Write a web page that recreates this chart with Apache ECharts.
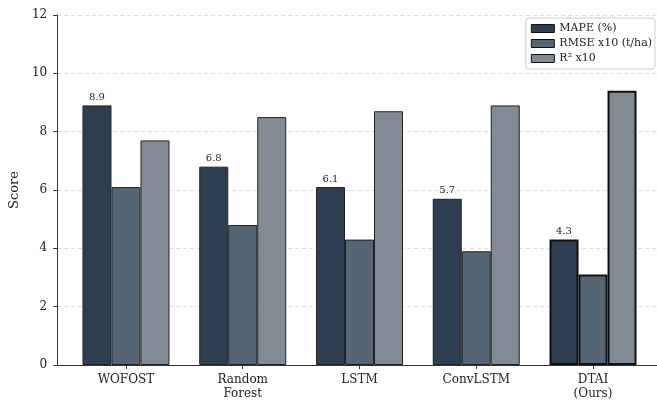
<!DOCTYPE html>
<html><head><meta charset="utf-8">
<script src="https://cdn.jsdelivr.net/npm/echarts@6/dist/echarts.min.js"></script>
<style>html,body{margin:0;padding:0;background:#fff}#c{width:657px;height:403px}</style>
</head><body><div id="c"></div>
<script>
const categories = ['WOFOST', 'Random\nForest', 'LSTM', 'ConvLSTM', 'DTAI\n(Ours)'];
const seriesNames = ['MAPE (%)', 'RMSE x10 (t/ha)', 'R\u00b2 x10'];
const mape = [8.9, 6.8, 6.1, 5.7, 4.3];
const rmse = [6.1, 4.8, 4.3, 3.9, 3.1];
const r2 = [7.7, 8.5, 8.7, 8.9, 9.4];
const yTicks = [0, 2, 4, 6, 8, 10, 12];
const colors = ['#2c3e50', '#566573', '#808b96'];
const FONT = 'DejaVu Serif';
const highlightIndex = 4;

function mk(vals, ci) {
  return vals.map((v, i) => ({
    value: v,
    itemStyle: i === highlightIndex
      ? { color: colors[ci], borderColor: '#111', borderWidth: 2 }
      : { color: colors[ci], borderColor: '#222', borderWidth: 1 }
  }));
}

const chart = echarts.init(document.getElementById('c'), null, { renderer: 'canvas' });
chart.setOption({
  animation: false,
  textStyle: { fontFamily: FONT },
  grid: [
    { left: 67.6, right: 5.6, top: 15, bottom: 38 },
    { left: 55, right: -6, top: 15, bottom: 38 }
  ],
  legend: {
    orient: 'vertical', right: 2, top: 18,
    icon: 'rect',
    itemWidth: 23, itemHeight: 8, itemGap: 2,
    itemStyle: { borderColor: '#111', borderWidth: 1 },
    borderColor: '#ccc', borderWidth: 1, borderRadius: 3,
    padding: [4, 3, 4, 5],
    textStyle: { fontFamily: FONT, fontSize: 11, color: '#222', lineHeight: 13 },
    data: seriesNames
  },
  xAxis: [
    { type: 'category', gridIndex: 0, data: categories,
      axisLine: { show: false },
      axisTick: { show: true, alignWithLabel: true, length: 4, lineStyle: { color: '#333' } },
      axisLabel: { fontFamily: FONT, fontSize: 12, color: '#222', margin: 8, lineHeight: 14 } },
    { type: 'value', gridIndex: 1, min: 0, max: 1,
      axisLine: { show: true, lineStyle: { color: '#333', width: 1 } },
      axisTick: { show: false }, axisLabel: { show: false }, splitLine: { show: false } }
  ],
  yAxis: [
    { type: 'value', gridIndex: 0, min: 0, max: 12, interval: 2, show: false, splitLine: { show: false } },
    { type: 'value', gridIndex: 1, min: yTicks[0], max: yTicks[yTicks.length - 1], interval: 2,
      name: 'Score', nameLocation: 'middle', nameGap: 29,
      nameTextStyle: { fontFamily: FONT, fontSize: 13, color: '#222' },
      axisLine: { show: true, lineStyle: { color: '#333', width: 1 } },
      axisTick: { show: true, length: 4, lineStyle: { color: '#333' } },
      axisLabel: { fontFamily: FONT, fontSize: 12, color: '#222', margin: 10 },
      splitLine: { show: true, lineStyle: { color: '#ddd', type: [4, 3], width: 1 } } }
  ],
  series: [
    { name: seriesNames[0], type: 'bar', xAxisIndex: 0, yAxisIndex: 0, data: mk(mape, 0),
      barWidth: 29, barGap: '0%',
      label: { show: true, position: 'top', distance: 3, fontFamily: FONT, fontSize: 10, color: '#222',
        formatter: p => p.value.toFixed(1) } },
    { name: seriesNames[1], type: 'bar', xAxisIndex: 0, yAxisIndex: 0, data: mk(rmse, 1), barWidth: 29, barGap: '0%' },
    { name: seriesNames[2], type: 'bar', xAxisIndex: 0, yAxisIndex: 0, data: mk(r2, 2), barWidth: 29, barGap: '0%' }
  ],
  color: colors
});
</script></body></html>
